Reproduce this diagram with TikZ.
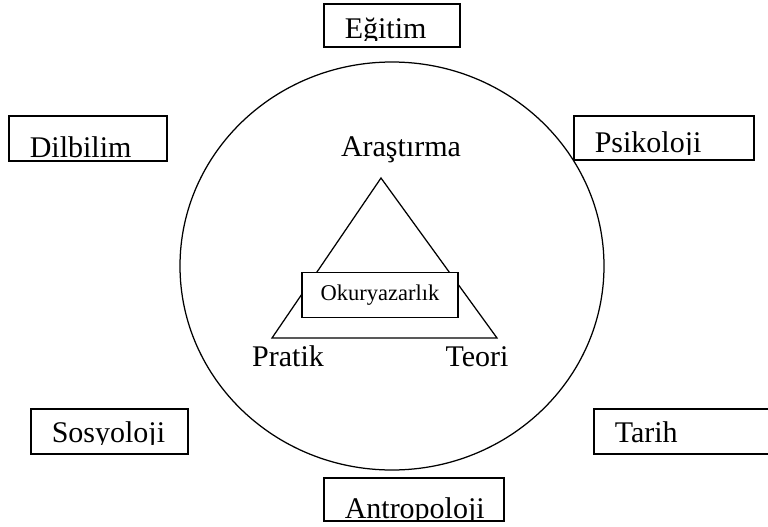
\documentclass[tikz,border=0pt]{standalone}
\usepackage{fontspec}
\setmainfont{Liberation Serif}
\usepackage{tikz}
\usetikzlibrary{shapes.geometric}

\newcommand{\kutufont}{\fontsize{12}{14}\selectfont}

\tikzset{
  kutu/.style={draw, line width=0.7pt, inner sep=0pt, anchor=north west},
  yazi/.style n args={2}{path picture={
      \clip ([yshift={#2-0.5pt}]path picture bounding box.south west) rectangle (path picture bounding box.north east);
      \node[anchor=base west, draw=none, inner sep=0pt, minimum width=0pt, minimum height=0pt, font=\kutufont] at ([shift={(8pt,#2)}]path picture bounding box.south west) {#1};
  }}
}

\begin{document}
\begin{tikzpicture}[x=0.4pt, y=-0.4pt]
        % Fix the page size
        \useasboundingbox (0,0) rectangle (768,527);

        % Draw the big circle
        \node[draw, ellipse, line width=0.5pt, minimum width=169.6pt, minimum height=163.2pt] (daire) at (392,266) {};

        % Draw the triangle
        \coordinate (tepe) at (381,178);
        \coordinate (sol) at (272,338);
        \coordinate (sag) at (497,338);
        \draw[line width=0.5pt] (tepe) -- (sol) -- (sag) -- cycle;

        % Add the corner labels
        \node[anchor=base, font=\kutufont] (arastirma) at (401,156) {Araştırma};
        \node[anchor=base, font=\kutufont] (pratik) at (288,366) {Pratik};
        \node[anchor=base, font=\kutufont] (teori) at (477,366) {Teori};

        % Box in the middle of the triangle
        \node[draw, fill=white, line width=0.7pt, minimum width=62.4pt, minimum height=18pt, font=\fontsize{9}{11}\selectfont] (okuryazarlik) at (380,295) {Okuryazarlık};

        % Plot the boxes round the circle
        \node[kutu, minimum width=54.4pt, minimum height=17.2pt, yazi={Eğitim}{3.2pt}] (egitim) at (323,3) {};
        \node[kutu, minimum width=63.2pt, minimum height=18pt, yazi={Dilbilim}{1.2pt}] (dilbilim) at (8,115) {};
        \node[kutu, minimum width=72pt, minimum height=17.6pt, yazi={Psikoloji}{2.8pt}] (psikoloji) at (573,115) {};
        \node[kutu, minimum width=62.8pt, minimum height=18pt, yazi={Sosyoloji}{4.4pt}] (sosyoloji) at (30,408) {};
        \node[kutu, minimum width=74pt, minimum height=18pt, yazi={Tarih}{4.4pt}] (tarih) at (593,408) {};
        \node[kutu, minimum width=72pt, minimum height=17.2pt, yazi={Antropoloji}{0.8pt}] (antropoloji) at (323,477) {};
    \end{tikzpicture}
\end{document}
